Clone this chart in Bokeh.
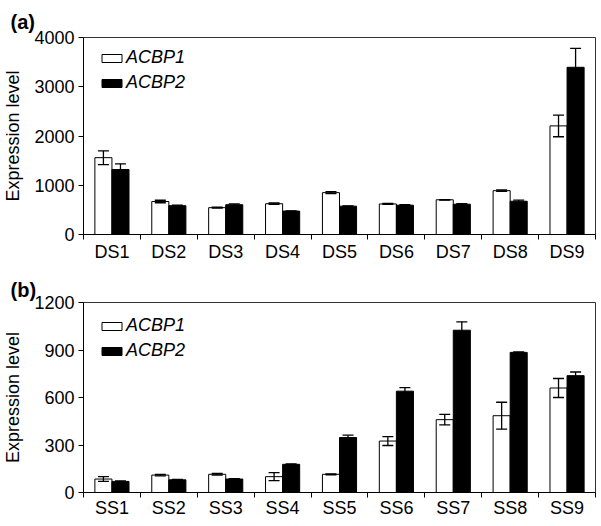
from bokeh.plotting import figure
from bokeh.models import (Range1d, FixedTicker, Whisker, TeeHead, ColumnDataSource,
                          Legend, LegendItem)
from bokeh.layouts import column
from bokeh.embed import file_html
from bokeh.resources import INLINE

# ---- data ----
ds_labels = ["DS1", "DS2", "DS3", "DS4", "DS5", "DS6", "DS7", "DS8", "DS9"]
ds_acbp1 = [1560, 670, 545, 625, 850, 620, 705, 890, 2205]
ds_acbp1_err = [140, 25, 8, 15, 20, 10, 5, 15, 220]
ds_acbp2 = [1320, 585, 605, 475, 575, 595, 615, 675, 3395]
ds_acbp2_err = [115, 10, 15, 5, 5, 10, 10, 25, 385]
ds_yticks = [0, 1000, 2000, 3000, 4000]

ss_labels = ["SS1", "SS2", "SS3", "SS4", "SS5", "SS6", "SS7", "SS8", "SS9"]
ss_acbp1 = [85, 110, 115, 100, 115, 325, 460, 485, 660]
ss_acbp1_err = [15, 5, 5, 25, 3, 28, 33, 85, 60]
ss_acbp2 = [70, 80, 85, 178, 347, 640, 1025, 885, 738]
ss_acbp2_err = [3, 3, 3, 3, 15, 23, 53, 3, 23]
ss_yticks = [0, 300, 600, 900, 1200]

series_names = ["ACBP1", "ACBP2"]

FONT = "Liberation Sans"
BAR_W = 0.3


def make_panel(tag, labels, v1, e1, v2, e2, yticks, frame_h, btop,
               legend_y, title_standoff, xlabel_standoff):
    n = len(labels)
    centers = [i + 0.5 for i in range(n)]
    p = figure(frame_width=512, frame_height=frame_h, output_backend="svg",
               toolbar_location=None,
               x_range=Range1d(0, n), y_range=Range1d(yticks[0], yticks[-1]),
               min_border_left=81, min_border_right=6, min_border_top=btop,
               min_border_bottom=20)
    p.xgrid.visible = False
    p.ygrid.visible = False
    p.outline_line_color = "#333333"
    p.outline_line_width = 1

    x1 = [c - BAR_W / 2 for c in centers]
    x2 = [c + BAR_W / 2 for c in centers]
    s1 = ColumnDataSource(dict(x=x1, top=v1, up=[a + b for a, b in zip(v1, e1)],
                               lo=[a - b for a, b in zip(v1, e1)]))
    s2 = ColumnDataSource(dict(x=x2, top=v2, up=[a + b for a, b in zip(v2, e2)],
                               lo=[a - b for a, b in zip(v2, e2)]))
    r1 = p.vbar(x="x", top="top", bottom=0, width=BAR_W, source=s1,
                fill_color="white", line_color="black", line_width=1)
    r2 = p.vbar(x="x", top="top", bottom=0, width=BAR_W, source=s2,
                fill_color="black", line_color="black", line_width=1)
    for s in (s1, s2):
        w = Whisker(base="x", upper="up", lower="lo", source=s, level="overlay",
                    line_color="black", line_width=1.3,
                    upper_head=TeeHead(size=11, line_color="black", line_width=1.3),
                    lower_head=TeeHead(size=11, line_color="black", line_width=1.3))
        p.add_layout(w)

    # x axis: labels at category centres, tick marks at category boundaries
    xa = p.xaxis[0]
    xa.ticker = FixedTicker(ticks=centers, minor_ticks=list(range(n + 1)))
    xa.major_label_overrides = {c: lab for c, lab in zip(centers, labels)}
    xa.major_tick_line_alpha = 0
    xa.major_tick_out = 5
    xa.major_tick_in = 0
    xa.minor_tick_out = 5
    xa.minor_tick_in = 0
    xa.minor_tick_line_color = "black"
    xa.major_label_standoff = xlabel_standoff
    xa.major_label_text_font = FONT
    xa.major_label_text_font_size = "18px"
    xa.major_label_text_color = "black"
    xa.axis_line_color = "black"

    ya = p.yaxis[0]
    ya.ticker = FixedTicker(ticks=yticks, minor_ticks=[])
    ya.major_tick_out = 5
    ya.major_tick_in = 0
    ya.major_tick_line_color = "black"
    ya.major_label_standoff = 4
    ya.major_label_text_font = FONT
    ya.major_label_text_font_size = "18px"
    ya.major_label_text_color = "black"
    ya.axis_label = "Expression level"
    ya.axis_label_text_font = FONT
    ya.axis_label_text_font_size = "18px"
    ya.axis_label_text_font_style = "normal"
    ya.axis_label_text_color = "black"
    ya.axis_label_standoff = 8
    ya.axis_line_color = "black"

    p.title.text = tag
    p.title.text_font = FONT
    p.title.text_font_size = "20px"
    p.title.text_font_style = "bold"
    p.title.text_color = "black"
    p.title.align = "left"
    p.title.offset = -73
    p.title.standoff = title_standoff

    legend = Legend(items=[LegendItem(label=series_names[0], renderers=[r1]),
                           LegendItem(label=series_names[1], renderers=[r2])],
                    location=(16, legend_y), glyph_width=25, glyph_height=10,
                    label_text_font=FONT, label_text_font_size="18px",
                    label_text_font_style="italic", label_text_color="black",
                    label_standoff=2, label_height=10, spacing=4, padding=0,
                    margin=0, border_line_alpha=0, background_fill_alpha=0)
    p.add_layout(legend)
    return p


pa = make_panel("(a)", ds_labels, ds_acbp1, ds_acbp1_err, ds_acbp2, ds_acbp2_err,
                ds_yticks, 197, 37, 141, 10, 2)
pb = make_panel("(b)", ss_labels, ss_acbp1, ss_acbp1_err, ss_acbp2, ss_acbp2_err,
                ss_yticks, 190, 38, 131, 3, 0)

layout = column(pa, pb, spacing=0)
open("out.html", "w").write(file_html(layout, INLINE))
